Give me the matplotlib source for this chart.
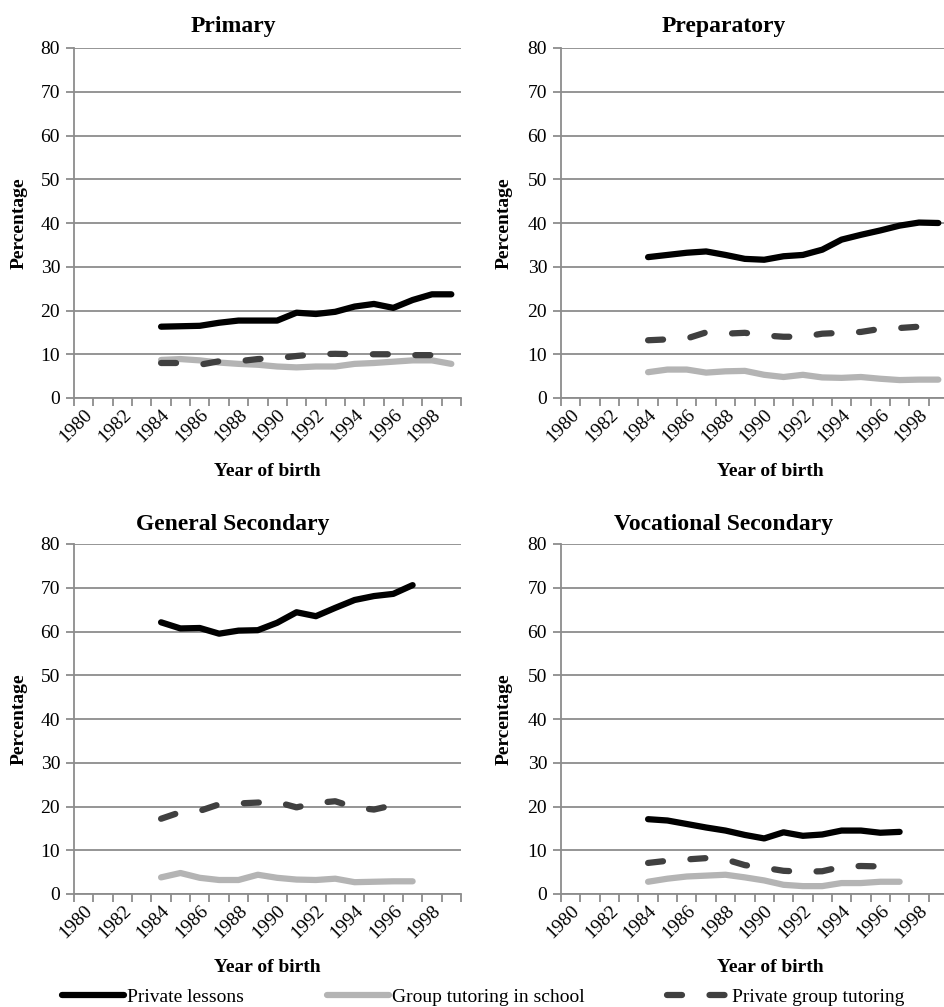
import numpy as np
import matplotlib
matplotlib.use("Agg")
import matplotlib.pyplot as plt
from matplotlib.ticker import FixedLocator, NullFormatter

plt.rcParams['font.family'] = ['Liberation Serif', 'DejaVu Serif']

# ---------------- data ----------------
all_years = list(range(1980, 2000))
tick_labels = ['1980', '1982', '1984', '1986', '1988', '1990', '1992', '1994', '1996', '1998']
yticks = [0, 10, 20, 30, 40, 50, 60, 70, 80]

years_long = list(range(1984, 2000))   # 1984-1999
years_short = list(range(1984, 1998))  # 1984-1997

series_names = ['Private lessons', 'Group tutoring in school', 'Private group tutoring']

primary_private = [16.3, 16.4, 16.5, 17.2, 17.7, 17.7, 17.7, 19.5, 19.2, 19.7, 20.9, 21.5, 20.6, 22.4, 23.7, 23.7]
primary_school = [8.7, 8.9, 8.6, 8.1, 7.8, 7.6, 7.2, 7.0, 7.2, 7.2, 7.8, 8.0, 8.3, 8.6, 8.6, 7.8]
primary_group = [8.0, 8.0, 7.6, 8.4, 8.4, 8.9, 9.1, 9.6, 10.0, 10.1, 10.0, 10.0, 10.0, 9.8, 9.8, 10.5]

prep_private = [32.2, 32.7, 33.2, 33.5, 32.7, 31.8, 31.6, 32.4, 32.7, 33.9, 36.2, 37.3, 38.3, 39.4, 40.1, 40.0]
prep_school = [5.9, 6.5, 6.5, 5.8, 6.1, 6.2, 5.3, 4.8, 5.3, 4.7, 4.6, 4.8, 4.4, 4.1, 4.2, 4.2]
prep_group = [13.2, 13.4, 13.6, 15.0, 14.7, 14.9, 14.3, 14.0, 14.0, 14.7, 14.9, 15.1, 15.8, 16.0, 16.3, 16.7]

gen_private = [62.1, 60.7, 60.8, 59.5, 60.2, 60.3, 62.0, 64.4, 63.5, 65.4, 67.2, 68.1, 68.6, 70.6]
gen_school = [3.8, 4.8, 3.7, 3.2, 3.2, 4.4, 3.7, 3.3, 3.2, 3.5, 2.7, 2.8, 2.9, 2.9]
gen_group = [17.2, 18.7, 19.0, 20.5, 20.7, 20.9, 21.0, 19.8, 20.8, 21.2, 19.8, 19.3, 20.3]  # 1984-1996

voc_private = [17.1, 16.8, 16.0, 15.2, 14.5, 13.5, 12.7, 14.1, 13.3, 13.6, 14.5, 14.5, 14.0, 14.2]
voc_school = [2.8, 3.5, 4.0, 4.2, 4.4, 3.8, 3.1, 2.1, 1.8, 1.8, 2.5, 2.5, 2.8, 2.8]
voc_group = [7.1, 7.6, 7.9, 8.2, 7.9, 6.6, 6.0, 5.3, 5.1, 5.2, 6.2, 6.4, 6.3, 6.5]

panels = [
    ('Primary', years_long, primary_private, primary_school, primary_group),
    ('Preparatory', years_long, prep_private, prep_school, prep_group),
    ('General Secondary', years_short, gen_private, gen_school, gen_group),
    ('Vocational Secondary', years_short, voc_private, voc_school, voc_group),
]

# ---------------- layout ----------------
W, H = 945, 1007
fig = plt.figure(figsize=(W / 100, H / 100), dpi=100)

ax_w = 387
ax_h = 350
lefts = [74, 561]
tops = [48, 544]          # pixel y of value 80
title_x = [233, 724]
title_base = [32, 530]

grid_col = '#8c8c8c'
LW = 4.5
styles = [
    dict(color='black', lw=LW, solid_capstyle='round', solid_joinstyle='round'),
    dict(color='#b4b4b4', lw=LW, solid_capstyle='round', solid_joinstyle='round'),
    dict(color='#404040', lw=LW, linestyle=(0, (2.4, 4.4)), dash_capstyle='round', dash_joinstyle='round'),
]

handles = None
for i, (title, yrs, s1, s2, s3) in enumerate(panels):
    r, c = divmod(i, 2)
    left = lefts[c]
    top = tops[r]
    ax = fig.add_axes([left / W, 1 - (top + ax_h) / H, ax_w / W, ax_h / H])
    hs = []
    for vals, st, name in zip((s1, s2, s3), styles, series_names):
        ln, = ax.plot(yrs[:len(vals)], vals, label=name, zorder=3, **st)
        hs.append(ln)
    handles = hs

    ax.set_xlim(all_years[0] - 0.5, all_years[-1] + 0.5)
    ax.set_ylim(0, 80)
    ax.set_yticks(yticks)
    ax.set_yticklabels([str(v) for v in yticks], fontsize=14)
    ax.yaxis.grid(True, color=grid_col, lw=1.3, zorder=1)
    ax.set_axisbelow(True)

    # category boundaries as major ticks, labels at category centres (minor)
    bounds = np.arange(all_years[0] - 0.5, all_years[-1] + 1.0, 1.0)
    ax.xaxis.set_major_locator(FixedLocator(bounds))
    ax.xaxis.set_major_formatter(NullFormatter())
    lab_pos = [int(t) for t in tick_labels]
    ax.xaxis.set_minor_locator(FixedLocator(lab_pos))
    ax.set_xticklabels(tick_labels, minor=True, fontsize=14, rotation=45,
                       ha='right', rotation_mode='anchor')
    ax.tick_params(axis='x', which='minor', length=0, pad=6)
    ax.tick_params(axis='x', which='major', length=6, width=1.3, color=grid_col, direction='out')
    ax.tick_params(axis='y', length=6, width=1.3, color=grid_col, direction='out', pad=4)

    for sp in ('top', 'right'):
        ax.spines[sp].set_visible(False)
    for sp in ('left', 'bottom'):
        ax.spines[sp].set_color(grid_col)
        ax.spines[sp].set_linewidth(1.3)

    ax.set_ylabel('Percentage', fontsize=14, fontweight='bold')
    ax.yaxis.set_label_coords(-0.119 if c == 0 else -0.124, 0.5)
    ax.set_xlabel('Year of birth', fontsize=14, fontweight='bold')
    ax.xaxis.set_label_coords(0.5 if c == 0 else 0.54, -0.185)

    fig.text(title_x[c] / W, 1 - title_base[r] / H, title, fontsize=17,
             fontweight='bold', ha='center', va='baseline')

# legend (three separate entries placed along the bottom)
leg_x = [62, 327, 667]
for h, x in zip(handles, leg_x):
    lg = fig.legend([h], [h.get_label()], loc='center left',
                    bbox_to_anchor=(x / W, 1 - 997 / H), frameon=False,
                    fontsize=14, handlelength=3.2, handletextpad=0.15,
                    borderpad=0, borderaxespad=0)

fig.savefig('out.png', dpi=100)
